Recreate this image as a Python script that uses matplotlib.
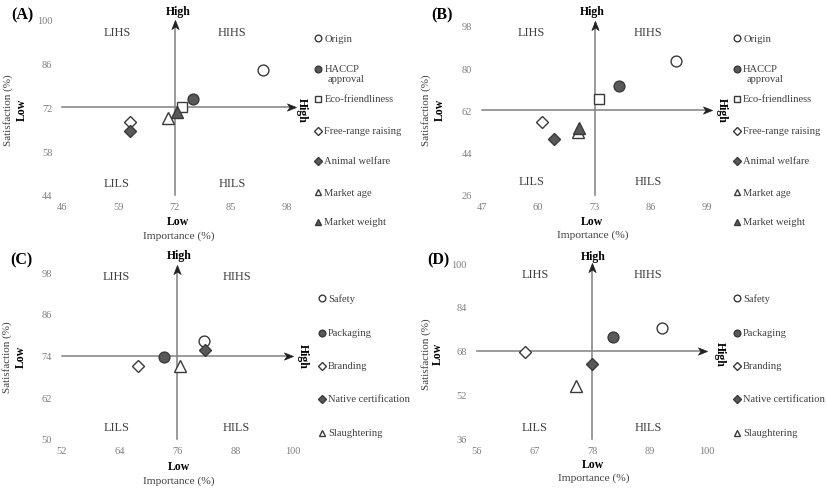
import matplotlib
matplotlib.use("Agg")
import matplotlib.pyplot as plt
from matplotlib.path import Path

# ---------------- data ----------------
labels_AB = ["Origin", "HACCP\napproval", "Eco-friendliness", "Free-range raising",
             "Animal welfare", "Market age", "Market weight"]
imp_A = [92.3, 76.3, 73.8, 61.7, 61.7, 70.5, 72.5]
sat_A = [83.8, 74.7, 72.2, 67.2, 64.5, 68.6, 70.4]
imp_B = [91.7, 78.6, 74.0, 60.8, 63.7, 69.3, 69.5]
sat_B = [83.1, 72.5, 66.8, 56.9, 50.0, 52.9, 54.7]

labels_CD = ["Safety", "Packaging", "Branding", "Native certification", "Slaughtering"]
imp_C = [81.5, 73.3, 67.9, 81.7, 76.5]
sat_C = [78.3, 73.5, 71.1, 75.6, 71.1]
imp_D = [91.3, 82.0, 65.3, 78.0, 74.9]
sat_D = [76.2, 73.2, 67.5, 63.3, 55.4]

xticks_A = [46, 59, 72, 85, 98];  yticks_A = [44, 58, 72, 86, 100]
xticks_B = [47, 60, 73, 86, 99];  yticks_B = [26, 44, 62, 80, 98]
xticks_C = [52, 64, 76, 88, 100]; yticks_C = [50, 62, 74, 86, 98]
xticks_D = [56, 67, 78, 89, 100]; yticks_D = [36, 52, 68, 84, 100]
center_A = (72, 72); center_B = (73, 62); center_C = (76, 74); center_D = (78, 68)

# ---------------- style ----------------
W, H = 827, 489
plt.rcParams['font.family'] = ['Liberation Serif', 'DejaVu Serif']
DARK = '#595959'
EDGE = '#3a3a3a'
TICKC = '#7f7f7f'
TXTC = '#404040'
LINEC = '#808080'

style_AB = [('o', 'white'), ('o', DARK), ('s', 'white'), ('D', 'white'),
            ('D', DARK), ('^', 'white'), ('^', DARK)]
style_CD = [('o', 'white'), ('o', DARK), ('D', 'white'), ('D', DARK), ('^', 'white')]
msize = {'o': 7.8, 's': 7.5, 'D': 6.2, '^': 8.2}
lsize = {'o': 4.8, 's': 4.6, 'D': 3.6, '^': 4.8}

# stealth arrowhead markers, tip at origin
_codes = [Path.MOVETO, Path.LINETO, Path.LINETO, Path.LINETO, Path.CLOSEPOLY]
HEAD_RIGHT = Path([(0, 0), (-2, 0.8), (-1.45, 0), (-2, -0.8), (0, 0)], _codes)
HEAD_UP = Path([(0, 0), (0.8, -2), (0, -1.45), (-0.8, -2), (0, 0)], _codes)

fig = plt.figure(figsize=(W / 100, H / 100), dpi=100)


def fp(x, y):
    """pixel (from top-left) -> figure fraction"""
    return x / W, 1 - y / H


def panel(rect, xticks, yticks, center, imp, sat, labels, styles, lab,
          pl, quad, leg_x, leg_y, texts):
    l, t, r, b = rect
    ax = fig.add_axes([l / W, 1 - b / H, (r - l) / W, (b - t) / H])
    ax.set_xlim(xticks[0], xticks[-1])
    ax.set_ylim(yticks[0], yticks[-1])
    ax.set_xticks(xticks)
    ax.set_yticks(yticks)
    for s in ax.spines.values():
        s.set_visible(False)
    ax.tick_params(length=0, labelsize=7.5, colors=TICKC)
    ax.tick_params(axis='x', pad=5)
    ax.tick_params(axis='y', pad=7)
    ax.patch.set_alpha(0)
    cx, cy = center
    # axes lines with arrows
    ax.plot([xticks[0], 99.0], [cy, cy], color=LINEC, lw=1.1, clip_on=False, zorder=1)
    ax.plot([cx, cx], [yticks[0], 99.0], color=LINEC, lw=1.1, clip_on=False, zorder=1)
    ax.plot([100], [cy], marker=HEAD_RIGHT, ms=13, mfc='#222222', mec='#222222', mew=0.5,
            ls='none', clip_on=False, zorder=3)
    ax.plot([cx], [100], marker=HEAD_UP, ms=13, mfc='#222222', mec='#222222', mew=0.5,
            ls='none', clip_on=False, zorder=3)
    # points
    for xi, yi, (m, fc) in zip(imp, sat, styles):
        ax.plot([xi], [yi], marker=m, ms=msize[m], mfc=fc, mec=EDGE, mew=1.0,
                ls='none', zorder=5, clip_on=False)
    # texts
    fig.text(*fp(*pl), lab, fontsize=11.5, fontweight='bold', ha='center', va='center')
    for (qx, qy), q in zip(quad, ['LIHS', 'HIHS', 'LILS', 'HILS']):
        fig.text(*fp(qx, qy), q, fontsize=8.8, color=TXTC, ha='center', va='center')
    (htx, hty), (hrx, hry), (lbx, lby), (ibx, iby), (llx, lly), (slx, sly) = texts
    fig.text(*fp(htx, hty), 'High', fontsize=8.5, fontweight='bold', ha='center', va='center')
    fig.text(*fp(hrx, hry), 'High', fontsize=8.5, fontweight='bold', ha='center',
             va='center', rotation=-90)
    fig.text(*fp(lbx, lby), 'Low', fontsize=8.5, fontweight='bold', ha='center', va='center')
    fig.text(*fp(ibx, iby), 'Importance (%)', fontsize=8.2, color=TXTC, ha='center', va='center')
    fig.text(*fp(llx, lly), 'Low', fontsize=8.5, fontweight='bold', ha='center',
             va='center', rotation=90)
    fig.text(*fp(slx, sly), 'Satisfaction (%)', fontsize=8.0, color=TXTC, ha='center',
             va='center', rotation=90)
    # legend
    for lbl, (m, fc), y in zip(labels, styles, leg_y):
        mx, my = fp(leg_x, y)
        fig.lines.append(plt.Line2D([mx], [my], marker=m, ms=lsize[m], mfc=fc, mec=EDGE,
                                    mew=1.0, ls='none', transform=fig.transFigure))
        if '\n' in lbl:
            first, second = lbl.split('\n')
            fig.text(*fp(leg_x + 6.5, y), first, fontsize=7.6, color=TXTC, ha='left', va='center')
            fig.text(*fp(leg_x + 10, y + 10), second, fontsize=7.6, color=TXTC, ha='left', va='center')
        else:
            fig.text(*fp(leg_x + 6.5, y), lbl, fontsize=7.6, color=TXTC, ha='left', va='center')
    return ax


legy_AB = [39, 70, 100, 132, 162, 193, 223]
legy_CD = [299, 334, 367, 400, 434]

panel((62, 20.7, 287.3, 196), xticks_A, yticks_A, center_A, imp_A, sat_A, labels_AB, style_AB,
      '(A)', (22, 15), [(117, 33), (232, 33), (117, 184), (232, 184)], 318, legy_AB,
      [(178, 11.5), (301.5, 110), (177.7, 222.5), (178.3, 236.5), (21.7, 110), (8.5, 110)])
panel((481.7, 26.7, 707.3, 196), xticks_B, yticks_B, center_B, imp_B, sat_B, labels_AB, style_AB,
      '(B)', (441.7, 15), [(531.7, 33), (648.3, 33), (531.7, 182), (648.3, 182)], 736.7, legy_AB,
      [(592.3, 11.5), (721.5, 110), (592.3, 221.7), (592.3, 235), (440, 110), (426, 110)])
panel((61.7, 273.3, 293.3, 440), xticks_C, yticks_C, center_C, imp_C, sat_C, labels_CD, style_CD,
      '(C)', (21.7, 260), [(116.7, 277.3), (236.7, 277.3), (116.7, 428.3), (236.7, 428.3)], 321.7,
      legy_CD,
      [(179, 255.7), (302.7, 356.7), (179, 467.3), (179, 481), (20.7, 356.7), (7.3, 356.7)])
panel((476.7, 264, 707.3, 440), xticks_D, yticks_D, center_D, imp_D, sat_D, labels_CD, style_CD,
      '(D)', (438, 260), [(535, 275), (648.3, 275), (535, 428.3), (648.3, 428.3)], 736.7,
      legy_CD,
      [(593.3, 256.7), (720, 354), (593.3, 465), (593.3, 478.3), (438.3, 354), (426, 354)])

fig.savefig('out.png', dpi=100)
